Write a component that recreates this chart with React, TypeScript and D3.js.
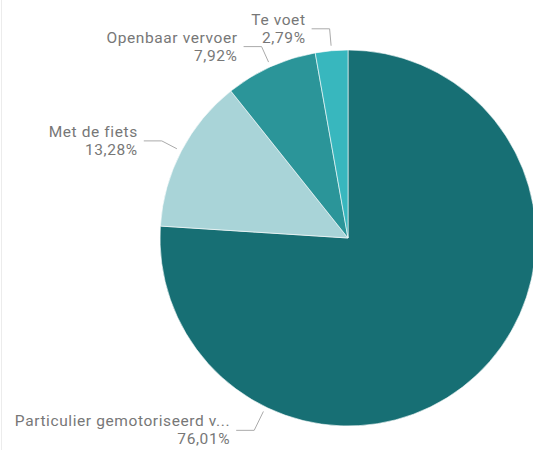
import React from "react";
import * as d3 from "d3";

const categories = ["Particulier gemotoriseerd v...", "Met de fiets", "Openbaar vervoer", "Te voet"];
const values = [76.01, 13.28, 7.92, 2.79];
const valueLabels = ["76,01%", "13,28%", "7,92%", "2,79%"];
const colors = ["#176F74", "#A9D4D8", "#2B9599", "#38B7BE"];
// label anchor angles (degrees clockwise from 12 o'clock); null = slice middle
const labelAngles: (number | null)[] = [206, null, null, null];

const W = 533;
const H = 450;
const cx = 348;
const cy = 238;
const R = 188;

export default function App() {
  const pie = d3.pie<number>().sort(null).value((d) => d)(values);
  const arc = d3.arc<d3.PieArcDatum<number>>().innerRadius(0).outerRadius(R);
  const font = "Roboto, 'DejaVu Sans', sans-serif";

  return (
    <svg
      width={W}
      height={H}
      style={{ position: "absolute", left: 0, top: 0, background: "#fff" }}
      fontFamily={font}
    >
      <line x1={1.5} x2={1.5} y1={0} y2={H} stroke="#ececec" strokeWidth={1} />
      <g transform={`translate(${cx},${cy})`}>
        {pie.map((p, i) => (
          <path key={i} d={arc(p) || ""} fill={colors[i]} stroke="#fff" strokeWidth={0.6} />
        ))}
      </g>
      {pie.map((p, i) => {
        const a = labelAngles[i] != null ? ((labelAngles[i] as number) * Math.PI) / 180 : (p.startAngle + p.endAngle) / 2;
        const r1 = R + 5;
        const r2 = i === 0 ? 214 : 210;
        const x1 = cx + r1 * Math.sin(a);
        const y1 = cy - r1 * Math.cos(a);
        const ex = cx + r2 * Math.sin(a);
        const ey = cy - r2 * Math.cos(a);
        const hx = ex - 18;
        const tx = hx - 6;
        return (
          <g key={i}>
            <polyline
              points={`${x1},${y1} ${ex},${ey} ${hx},${ey}`}
              fill="none"
              stroke="#aaa"
              strokeWidth={1}
            />
            <text x={tx} y={ey - 4} textAnchor="end" fontSize={15.5} letterSpacing={0.6} fill="#777">
              {categories[i]}
            </text>
            <text x={tx} y={ey + 14} textAnchor="end" fontSize={15.5} letterSpacing={0.6} fill="#777">
              {valueLabels[i]}
            </text>
          </g>
        );
      })}
    </svg>
  );
}
